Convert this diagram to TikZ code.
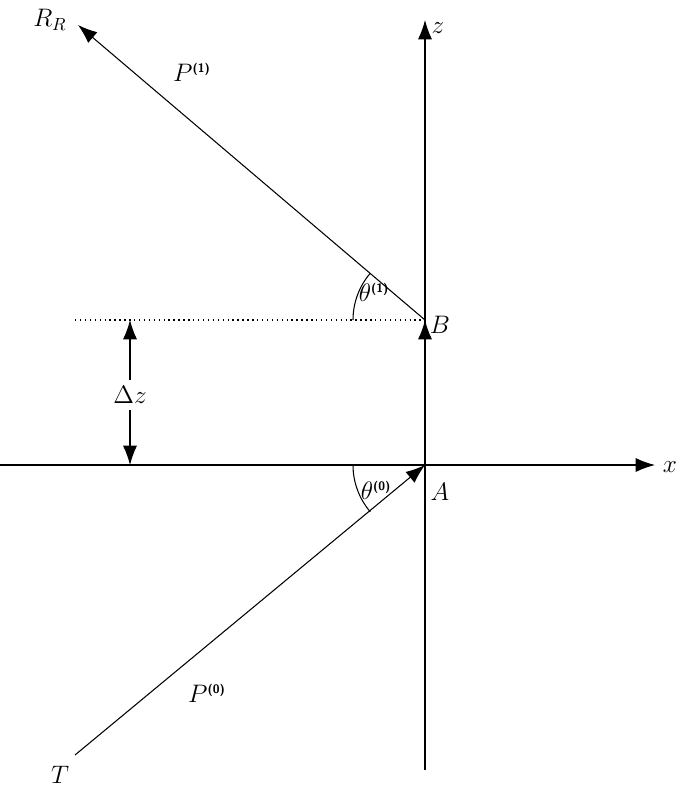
\documentclass[tikz,border=0pt]{standalone}
\usetikzlibrary{arrows.meta}
\newcommand{\upsup}[1]{^{\textsf{\textbf{\scriptsize(#1)}}}}
\tikzset{
  ray/.style={line width=0.6pt,-{Latex[length=11pt,width=8pt]}},
  lbl/.style={font=\Large},
}
\begin{document}
\begin{tikzpicture}[x=0.02cm,y=-0.02cm]
\useasboundingbox (0,0) rectangle (685,795);
% points
\coordinate (A) at (425,465);
\coordinate (B) at (425,320);
\coordinate (ztop) at (425,20);
\coordinate (zbot) at (425,770);
\coordinate (xl) at (0,465);
\coordinate (xr) at (655,465);
\coordinate (R) at (78,25);
\coordinate (T) at (75,755);
\coordinate (dl) at (75,320);
\coordinate (dzu) at (130,320);
\coordinate (dzd) at (130,465);
% axes
\draw[ray] (zbot) -- (ztop);
\draw[ray] (xl) -- (xr);
\draw[ray] (A) -- (B);
% rays
\draw[ray] (B) -- (R);
\draw[ray] (T) -- (A);
\draw[dotted,line width=0.8pt] (dl) -- (B);
% delta z
\node[lbl] (dz) at (130,395) {$\Delta z$};
\draw[ray] (dz.north) -- (dzu);
\draw[ray] (dz.south) -- (dzd);
% angles
\draw[line width=0.6pt] (B) ++(180:72) arc[start angle=180,end angle=220.4,radius=72];
\draw[line width=0.6pt] (A) ++(180:72) arc[start angle=180,end angle=139.4,radius=72];
% labels
\node[lbl] (RR) at (50,20) {$R_R$};
\node[lbl] (zl) at (438,28) {$z$};
\node[lbl] (xlab) at (670,467) {$x$};
\node[lbl] (Bl) at (440,325) {$B$};
\node[lbl] (Al) at (440,492) {$A$};
\node[lbl] (Tl) at (60,775) {$T$};
\node[lbl] (P1) at (192,72) {$P\upsup{1}$};
\node[lbl] (P0) at (207,693) {$P\upsup{0}$};
\node[lbl] (t1) at (374,292) {$\theta\upsup{1}$};
\node[lbl] (t0) at (376,490) {$\theta\upsup{0}$};
\end{tikzpicture}
\end{document}
